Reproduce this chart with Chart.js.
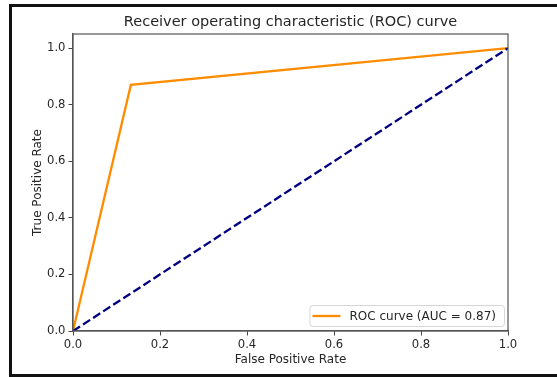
<!DOCTYPE html>
<html>
<head>
<meta charset="utf-8">
<script src="https://cdn.jsdelivr.net/npm/chart.js@4.4.0/dist/chart.umd.min.js"></script>
<style>
  html, body { margin: 0; padding: 0; background: #fff; }
  #wrap { position: relative; width: 557px; height: 377px; overflow: hidden; }
  #frame { position: absolute; left: 9px; top: 4px; width: 600px; height: 367px;
           border-left: 3px solid #111; border-top: 3px solid #111; border-bottom: 3px solid #111;
           pointer-events: none; }
  canvas { position: absolute; left: 0; top: 0; }
</style>
</head>
<body>
<div id="wrap">
  <canvas id="c" width="557" height="377"></canvas>
  <div id="frame"></div>
</div>
<script>
// ---- data ----
const fpr = [0.0, 0.133, 1.0];
const tpr = [0.0, 0.87, 1.0];
const chanceX = [0.0, 1.0];
const chanceY = [0.0, 1.0];
const rocLabel = 'ROC curve (AUC = 0.87)';
const xTicks = [0.0, 0.2, 0.4, 0.6, 0.8, 1.0];
const yTicks = [0.0, 0.2, 0.4, 0.6, 0.8, 1.0];
const titleText = 'Receiver operating characteristic (ROC) curve';
const xTitle = 'False Positive Rate';
const yTitle = 'True Positive Rate';

const FONT = "'DejaVu Sans', sans-serif";
const TXT = '#262626';

const rocPoints = fpr.map((x, i) => ({ x: x, y: tpr[i] }));
const chancePoints = chanceX.map((x, i) => ({ x: x, y: chanceY[i] }));

const framePlugin = {
  id: 'frame',
  afterDatasetsDraw(chart) {
    const { ctx, chartArea: a } = chart;
    ctx.save();
    ctx.strokeStyle = '#555';
    ctx.lineWidth = 1.2;
    ctx.strokeRect(a.left, a.top, a.right - a.left, a.bottom - a.top);
    ctx.restore();
  }
};

const titlePlugin = {
  id: 'areaTitle',
  afterDraw(chart) {
    const { ctx, chartArea: a } = chart;
    ctx.save();
    ctx.font = '14.5px ' + FONT;
    ctx.fillStyle = TXT;
    ctx.textAlign = 'center';
    ctx.textBaseline = 'middle';
    ctx.fillText(titleText, (a.left + a.right) / 2, 22);
    ctx.restore();
  }
};

const legendPlugin = {
  id: 'boxLegend',
  afterDraw(chart) {
    const { ctx, chartArea: a } = chart;
    const ds = chart.data.datasets[0];
    ctx.save();
    ctx.font = '12px ' + FONT;
    const tw = ctx.measureText(ds.label).width;
    const w = 3 + 28 + 9 + tw + 8;
    const h = 21;
    const x = a.right - 4 - w;
    const y = a.bottom - 5 - h;
    ctx.fillStyle = 'rgba(255,255,255,0.85)';
    ctx.strokeStyle = '#d6d6d6';
    ctx.lineWidth = 1;
    ctx.beginPath();
    if (ctx.roundRect) ctx.roundRect(x + 0.5, y + 0.5, w, h, 3); else ctx.rect(x + 0.5, y + 0.5, w, h);
    ctx.fill();
    ctx.stroke();
    ctx.strokeStyle = ds.borderColor;
    ctx.lineWidth = ds.borderWidth;
    ctx.beginPath();
    ctx.moveTo(x + 3, y + h / 2 + 0.5);
    ctx.lineTo(x + 31, y + h / 2 + 0.5);
    ctx.stroke();
    ctx.fillStyle = TXT;
    ctx.textBaseline = 'middle';
    ctx.fillText(ds.label, x + 40, y + h / 2 + 1);
    ctx.restore();
  }
};

new Chart(document.getElementById('c'), {
  type: 'scatter',
  data: {
    datasets: [
      { label: rocLabel, data: rocPoints, showLine: true, borderColor: '#ff8c00',
        backgroundColor: '#ff8c00', borderWidth: 2.3, pointRadius: 0, tension: 0, order: 1 },
      { label: 'chance', data: chancePoints, showLine: true, borderColor: '#000080',
        backgroundColor: '#000080', borderWidth: 2.3, borderDash: [8.4, 3.6], pointRadius: 0, tension: 0, order: 0 }
    ]
  },
  options: {
    responsive: false,
    devicePixelRatio: 1,
    animation: false,
    layout: { padding: { left: 0, right: 49, top: 34, bottom: 0 } },
    plugins: {
      legend: { display: false },
      tooltip: { enabled: false },
      title: { display: false }
    },
    scales: {
      x: {
        type: 'linear', min: 0, max: 1,
        afterBuildTicks(s) { s.ticks = xTicks.map(v => ({ value: v })); },
        afterFit(s) { s.height = 46; },
        ticks: { color: TXT, font: { family: FONT, size: 11.6 }, padding: 3,
                 maxRotation: 0, callback: v => v.toFixed(1) },
        grid: { drawOnChartArea: false, drawTicks: true, tickLength: 4.5, color: '#444', lineWidth: 1 },
        border: { display: true, color: '#555', width: 1.2 },
        title: { display: true, text: xTitle, color: TXT, font: { family: FONT, size: 12 },
                 padding: { top: 0, bottom: 10 } }
      },
      y: {
        type: 'linear', min: 0, max: 1.05,
        afterBuildTicks(s) { s.ticks = yTicks.map(v => ({ value: v })); },
        afterFit(s) { s.width = 73; },
        ticks: { color: TXT, font: { family: FONT, size: 11.6 }, padding: 3,
                 callback: v => v.toFixed(1) },
        grid: { drawOnChartArea: false, drawTicks: true, tickLength: 4.5, color: '#444', lineWidth: 1 },
        border: { display: true, color: '#555', width: 1.2 },
        title: { display: true, text: yTitle, color: TXT, font: { family: FONT, size: 12 },
                 padding: { top: 30.3, bottom: 0 } }
      }
    }
  },
  plugins: [framePlugin, titlePlugin, legendPlugin]
});
</script>
</body>
</html>
